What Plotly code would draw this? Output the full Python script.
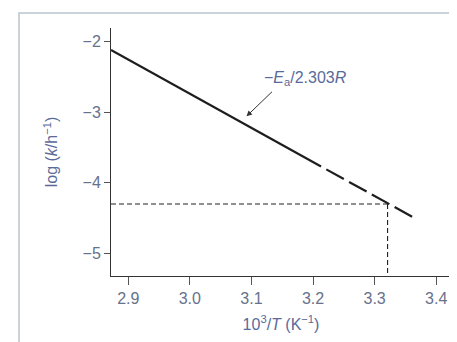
import plotly.graph_objects as go

# Data
x_measured = [2.872, 3.213]
y_measured = [-2.12, -3.77]
x_extrap = [3.213, 3.365]
y_extrap = [-3.77, -4.50]
x_ref = 3.321
y_ref = -4.30
x_ticks = [2.9, 3.0, 3.1, 3.2, 3.3, 3.4]
x_ticklabels = ["2.9", "3.0", "3.1", "3.2", "3.3", "3.4"]
y_ticks = [-2, -3, -4, -5]
y_ticklabels = ["\u22122", "\u22123", "\u22124", "\u22125"]

x_range = [2.872, 3.424]
y_range = [-5.32, -1.81]

W, H = 457, 342
ml, mr, mt, mb = 103, 14, 20, 74
pw, ph = W - ml - mr, H - mt - mb

def px2paper_x(px):
    return (px - ml) / pw

def px2paper_y(py):
    return (H - mb - py) / ph

label_col = "#66728c"
title_col = "#5a6a9a"
font = "Liberation Sans, Arial, sans-serif"

fig = go.Figure()
fig.add_trace(go.Scatter(x=x_measured, y=y_measured, mode="lines",
                         line=dict(color="#1e1e1e", width=2.2), hoverinfo="skip"))
fig.add_trace(go.Scatter(x=x_extrap, y=y_extrap, mode="lines",
                         line=dict(color="#1e1e1e", width=2.2, dash="0px,6px,20px,0px"),
                         hoverinfo="skip"))
fig.add_trace(go.Scatter(x=[x_range[0], x_ref], y=[y_ref, y_ref], mode="lines",
                         line=dict(color="#222", width=1.1, dash="5px,3px"), hoverinfo="skip"))
fig.add_trace(go.Scatter(x=[x_ref, x_ref], y=[y_ref, y_range[0]], mode="lines",
                         line=dict(color="#222", width=1.1, dash="5px,3px"), hoverinfo="skip"))

# frame around the figure
fig.add_shape(type="rect", xref="paper", yref="paper",
              x0=px2paper_x(11), x1=px2paper_x(456), y0=px2paper_y(350), y1=px2paper_y(5),
              line=dict(color="#bcc3cf", width=1.5), layer="below")

# annotation arrow and text
fig.add_annotation(x=3.092, y=-3.06, ax=27, ay=-26, xref="x", yref="y",
                   text="", showarrow=True, arrowhead=2, arrowsize=1.1,
                   arrowwidth=1, arrowcolor="#333")
fig.add_annotation(x=3.117, y=-2.518, xref="x", yref="y", xanchor="left", yanchor="middle",
                   text="\u2212<i>E</i><sub>a</sub>/2.303<i>R</i>", showarrow=False,
                   font=dict(family=font, size=16, color=title_col))

fig.update_layout(
    width=W, height=H,
    margin=dict(l=ml, r=mr, t=mt, b=mb),
    paper_bgcolor="white", plot_bgcolor="white",
    showlegend=False,
    font=dict(family=font, size=16, color=label_col),
    xaxis=dict(range=x_range, tickvals=x_ticks, ticktext=x_ticklabels,
               showgrid=False, zeroline=False, showline=True, linecolor="#333", linewidth=1,
               ticks="outside", ticklen=8, tickcolor="#555", tickwidth=1,
               tickfont=dict(size=16, color=label_col),
               title=dict(text="10<sup>3</sup>/<i>T</i> (K<sup>\u22121</sup>)",
                          font=dict(size=16, color=title_col), standoff=12)),
    yaxis=dict(range=y_range, tickvals=y_ticks, ticktext=y_ticklabels,
               showgrid=False, zeroline=False, showline=True, linecolor="#333", linewidth=1,
               ticks="outside", ticklen=6, tickcolor="#555", tickwidth=1,
               tickfont=dict(size=16, color=label_col),
               title=dict(text="log (<i>k</i>/h<sup>\u22121</sup>)",
                          font=dict(size=16, color=title_col), standoff=20)),
)

fig.write_html("out.html")
